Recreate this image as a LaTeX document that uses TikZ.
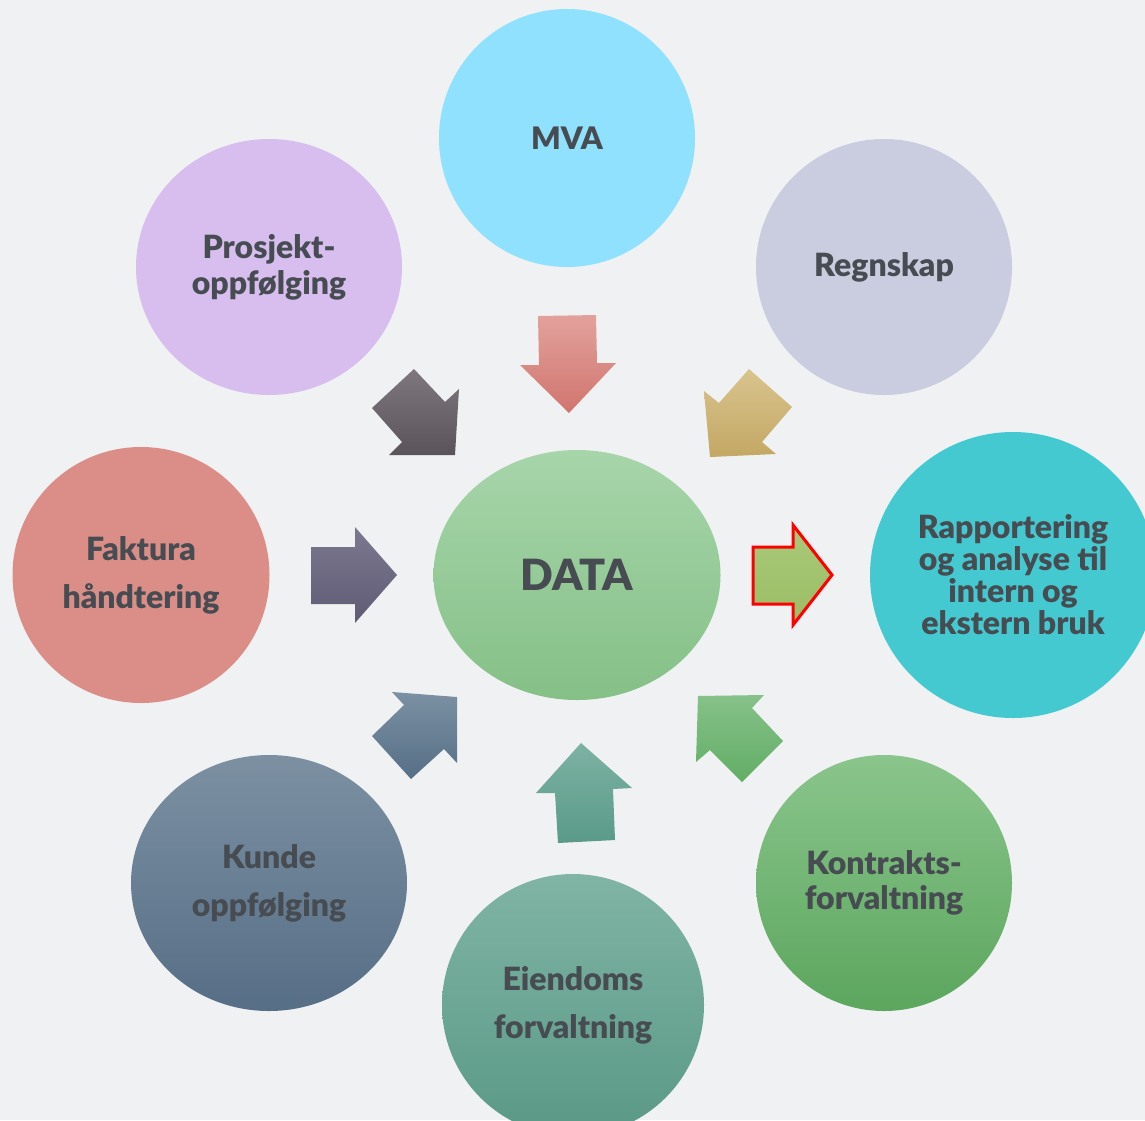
\documentclass[tikz,border=0pt]{standalone}
\usepackage{fontspec}
\setmainfont{Lato}[BoldFont={Lato Black}]
\usetikzlibrary{shapes.geometric}
\definecolor{bg}{HTML}{F0F1F3}
\definecolor{txt}{HTML}{464C51}
\definecolor{cMva}{HTML}{8FE1FE}
\definecolor{cPro}{HTML}{D8BEEE}
\definecolor{cReg}{HTML}{CACDE0}
\definecolor{cFak}{HTML}{DA8E87}
\definecolor{cDataT}{HTML}{A7D5AA}
\definecolor{cDataB}{HTML}{85C087}
\definecolor{cRap}{HTML}{45C9D0}
\definecolor{cKunT}{HTML}{7C90A2}
\definecolor{cKunB}{HTML}{566E86}
\definecolor{cEieT}{HTML}{80B4A5}
\definecolor{cEieB}{HTML}{5A9986}
\definecolor{cKonT}{HTML}{8AC58C}
\definecolor{cKonB}{HTML}{5CA65E}
\definecolor{aRedT}{HTML}{E3A19C}
\definecolor{aRedB}{HTML}{D0756E}
\definecolor{aDarkT}{HTML}{7E777D}
\definecolor{aDarkB}{HTML}{5A545A}
\definecolor{aGoldT}{HTML}{D9C48E}
\definecolor{aGoldB}{HTML}{C3A764}
\definecolor{aPurT}{HTML}{7C7890}
\definecolor{aPurB}{HTML}{605B74}
\definecolor{aOutT}{HTML}{A9C979}
\definecolor{aOutB}{HTML}{9ABD65}
\definecolor{aOutL}{HTML}{FF0000}
\definecolor{aBluT}{HTML}{7B90A2}
\definecolor{aBluB}{HTML}{566F87}
\definecolor{aTeaT}{HTML}{7DB2A3}
\definecolor{aTeaB}{HTML}{5A9A88}
\definecolor{aGreT}{HTML}{86C189}
\definecolor{aGreB}{HTML}{62AD66}
\tikzset{
  bubble/.style={ellipse, inner sep=0pt, align=center, text=txt,
    font=\bfseries\fontsize{32}{48}\selectfont},
  blockarrow/.style={draw=none},
}
\begin{document}
\begin{tikzpicture}[x=1pt,y=-1pt]
\useasboundingbox (0,0) rectangle (1145,1120);
\fill[bg] (0,0) rectangle (1145,1120);

% circles
\node[bubble, fill=cMva, minimum width=256, minimum height=258,
  font=\bfseries\fontsize{31}{48}\selectfont] (mva) at (567,138) {MVA};
\node[bubble, fill=cPro, minimum width=266, minimum height=256,
  font=\bfseries\fontsize{32}{36}\selectfont] (prosjekt) at (269,267) {Prosjekt-\\oppfølging};
\node[bubble, fill=cReg, minimum width=256, minimum height=256] (regnskap) at (884,267) {Regnskap};
\node[bubble, fill=cFak, minimum width=257, minimum height=256] (faktura) at (141,575) {Faktura\\håndtering};
\node[bubble, top color=cDataT, bottom color=cDataB, minimum width=287, minimum height=250,
  font=\bfseries\fontsize{43}{48}\selectfont] (data) at (577,575) {DATA};
\node[bubble, fill=cRap, minimum width=286, minimum height=286,
  font=\bfseries\fontsize{32}{32}\selectfont] (rapport) at (1013,575) {Rapportering\\og analyse til\\intern og\\ekstern bruk};
\node[bubble, top color=cKunT, bottom color=cKunB, minimum width=276, minimum height=256] (kunde) at (269,883) {Kunde\\oppfølging};
\node[bubble, top color=cEieT, bottom color=cEieB, minimum width=262, minimum height=262] (eiendom) at (573,1005) {Eiendoms\\forvaltning};
\node[bubble, top color=cKonT, bottom color=cKonB, minimum width=256, minimum height=256,
  font=\bfseries\fontsize{32}{35}\selectfont] (kontrakt) at (884,883) {Kontrakts-\\forvaltning};

% block arrows
% from MVA (down)
\path[blockarrow, top color=aRedT, bottom color=aRedB]
  (538,316) -- (596,315) -- (597,363) -- (616,363) -- (569,413) -- (520,365) -- (539,365) -- cycle;
% from Prosjekt (down-right)
\path[blockarrow, top color=aDarkT, bottom color=aDarkB]
  (414,369) -- (445,402) -- (459,389) -- (455,455) -- (389,455) -- (402,442) -- (372,408) -- cycle;
% from Regnskap (down-left)
\path[blockarrow, top color=aGoldT, bottom color=aGoldB]
  (749,369) -- (792,407) -- (762,442) -- (776,454) -- (710,457) -- (704,391) -- (719,403) -- cycle;
% from Faktura (right)
\path[blockarrow, top color=aPurT, bottom color=aPurB]
  (311,547) -- (355,547) -- (355,527) -- (397,575) -- (355,623) -- (355,604) -- (311,604) -- cycle;
% to Rapportering (right, red outline)
\path[draw=aOutL, line width=3, line join=miter, top color=aOutT, bottom color=aOutB]
  (753,547) -- (793,547) -- (793,525) -- (832,575) -- (793,625) -- (793,604) -- (753,604) -- cycle;
% from Kunde (up-right)
\path[blockarrow, top color=aBluT, bottom color=aBluB]
  (392,692) -- (457,697) -- (457,763) -- (444,749) -- (411,779) -- (372,736) -- (404,705) -- cycle;
% from Eiendoms (up)
\path[blockarrow, top color=aTeaT, bottom color=aTeaB]
  (581,743) -- (632,788) -- (613,789) -- (615,840) -- (558,843) -- (555,793) -- (536,793) -- cycle;
% from Kontrakt (up-left)
\path[blockarrow, top color=aGreT, bottom color=aGreB]
  (698,696) -- (764,695) -- (752,708) -- (783,741) -- (742,782) -- (710,750) -- (696,762) -- cycle;
\end{tikzpicture}
\end{document}
